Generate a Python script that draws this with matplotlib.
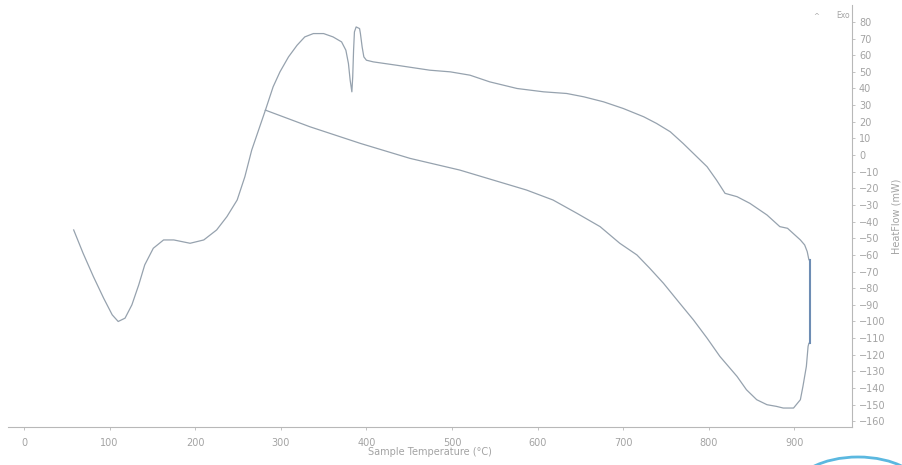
import numpy as np
import matplotlib.pyplot as plt
from matplotlib.patches import Ellipse

# heating run: sample temperature (°C) and heat flow (mW)
heat_temp = [58, 69, 81, 93, 103, 110, 118, 126, 134, 141, 151, 163, 175, 194,
             210, 225, 237, 249, 258, 266, 282, 291, 299, 309, 319, 328, 338,
             350, 361, 371, 376, 379, 381, 383, 384, 385, 386, 388, 392, 393,
             395, 397, 400, 408, 435, 474, 498, 521, 544, 576, 607, 634, 654,
             677, 700, 724, 739, 755, 770, 786, 798, 809, 819, 833, 848, 868,
             883, 892, 907, 912, 915, 917]
heat_flow = [-45, -59, -73, -86, -96, -100, -98, -90, -78, -66, -56, -51, -51, -53,
             -51, -45, -37, -27, -13, 3, 27, 41, 50, 59, 66, 71, 73,
             73, 71, 68, 63, 55, 45, 38, 47, 63, 74, 77, 76, 73,
             65, 59, 57, 56, 54, 51, 50, 48, 44, 40, 38, 37, 35,
             32, 28, 23, 19, 14, 7, -1, -7, -15, -23, -25, -29, -36,
             -43, -44, -51, -54, -58, -63]

# isothermal hold at maximum temperature
hold_temp = [918, 918]
hold_flow = [-63, -113]

# cooling run back to the start of the baseline
cool_temp = [917, 916, 914, 910, 907, 899, 887, 879, 868, 856, 844, 833, 813,
             798, 782, 766, 747, 731, 716, 696, 673, 646, 618, 587, 548, 509,
             451, 393, 334, 282]
cool_flow = [-113, -115, -127, -139, -147, -152, -152, -151, -150, -147, -141, -133, -121,
             -110, -99, -89, -77, -68, -60, -53, -43, -35, -27, -21, -15, -9,
             -2, 7, 17, 27]

xticks = list(range(0, 1000, 100))
yticks = list(range(-160, 90, 10))

line_col = '#96a2ae'
text_col = '#a3a3a3'

fig = plt.figure(figsize=(9.03, 4.65), dpi=100)
ax = fig.add_axes([0.0089, 0.0817, 0.9346, 0.9073])

ax.plot(heat_temp + hold_temp + cool_temp, heat_flow + hold_flow + cool_flow,
        color=line_col, lw=0.9, solid_joinstyle='round')
ax.plot(hold_temp, hold_flow, color='#6e8db4', lw=1.5)

ax.set_xlim(-18.7, 967.3)
ax.set_ylim(-163.4, 90.1)

for s in ['left', 'top']:
    ax.spines[s].set_visible(False)
for s in ['right', 'bottom']:
    ax.spines[s].set_color('#b8b8b8')
    ax.spines[s].set_linewidth(0.8)

ax.yaxis.tick_right()
ax.yaxis.set_label_position('right')
ax.set_xticks(xticks)
ax.set_yticks(yticks)
ax.tick_params(axis='both', colors='#b8b8b8', labelcolor=text_col,
               labelsize=7, length=2, width=0.6, pad=3)
ax.tick_params(axis='x', pad=6)

ax.set_xlabel('Sample Temperature (°C)', fontsize=7, color=text_col, labelpad=-1)
ax.set_ylabel('HeatFlow (mW)', fontsize=7, color=text_col, labelpad=4)

# exotherm direction marker
ax.text(0.958, 0.975, '^', transform=ax.transAxes, fontsize=5, color=text_col,
        ha='center', va='center')
ax.text(0.998, 0.975, 'Exo', transform=ax.transAxes, fontsize=5.5, color=text_col,
        ha='right', va='center')

# stamp in the corner
stamp = Ellipse((858 / 903, 1 - 492 / 465), 130 / 903, 70 / 465,
                transform=fig.transFigure, fill=False, edgecolor='#5bb8e0',
                lw=2.0, clip_on=False)
fig.add_artist(stamp)

fig.savefig('out.png', dpi=100)
